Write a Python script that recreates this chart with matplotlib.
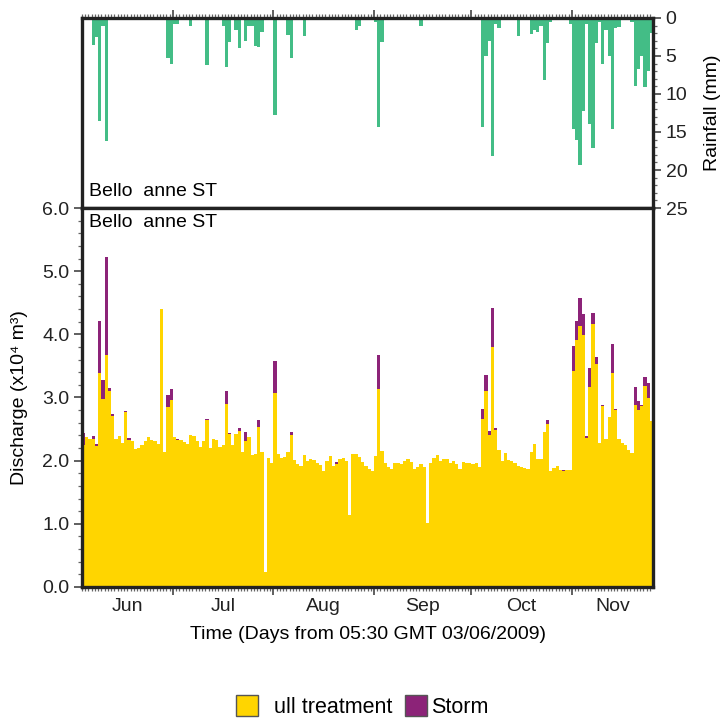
import numpy as np
import matplotlib
matplotlib.use("Agg")
import matplotlib.pyplot as plt
from matplotlib.patches import Patch
from matplotlib.transforms import blended_transform_factory

plt.rcParams['font.family'] = ['Liberation Sans', 'DejaVu Sans']
plt.rcParams['font.size'] = 14

# Daily discharge, days from 05:30 GMT 03/06/2009 (x10^4 m3)
base = [2.25, 2.37, 2.34, 2.34, 2.24, 3.39, 2.97, 3.67, 3.10, 2.71,
        2.34, 2.39, 2.28, 2.77, 2.33, 2.31, 2.18, 2.20, 2.25, 2.31,
        2.38, 2.33, 2.31, 2.27, 4.40, 2.14, 2.85, 2.96, 2.37, 2.33,
        2.33, 2.29, 2.27, 2.40, 2.39, 2.31, 2.22, 2.31, 2.64, 2.20,
        2.34, 2.33, 2.22, 2.25, 2.90, 2.42, 2.25, 2.42, 2.47, 2.14,
        2.31, 2.37, 2.09, 2.10, 2.53, 2.14, 0.23, 2.04, 1.96, 3.07,
        2.10, 2.04, 2.06, 2.14, 2.41, 2.01, 1.95, 1.92, 2.09, 2.00,
        2.03, 2.01, 1.96, 1.93, 1.84, 2.00, 2.08, 1.92, 1.95, 2.03,
        2.04, 2.00, 1.14, 2.10, 2.10, 2.06, 1.98, 1.92, 1.87, 1.83,
        2.08, 3.13, 2.15, 1.96, 1.90, 1.87, 1.96, 1.96, 1.95, 2.00,
        2.03, 1.98, 1.87, 1.90, 1.95, 1.90, 1.01, 1.96, 2.04, 2.09,
        2.00, 2.03, 2.03, 1.96, 2.00, 1.95, 1.87, 1.98, 1.96, 1.96,
        1.95, 1.96, 1.90, 2.66, 3.10, 2.41, 3.80, 2.48, 2.17, 2.00,
        2.12, 2.01, 2.00, 1.96, 1.92, 1.90, 1.89, 1.87, 2.14, 2.26,
        2.03, 2.03, 2.45, 2.58, 1.84, 1.89, 1.92, 1.85, 1.84, 1.86,
        1.85, 3.42, 3.91, 4.13, 3.99, 2.36, 3.16, 4.16, 3.53, 2.28,
        2.86, 2.34, 2.69, 3.39, 2.80, 2.34, 2.28, 2.25, 2.17, 2.12,
        2.88, 2.80, 2.86, 3.18, 2.99, 2.63]

storm = {0: 0.19, 3: 0.05, 4: 0.02, 5: 0.82, 6: 0.30, 7: 1.55, 8: 0.05,
         9: 0.03, 13: 0.02, 14: 0.03, 26: 0.19, 27: 0.17, 29: 0.02,
         38: 0.02, 44: 0.20, 45: 0.02, 48: 0.05, 50: 0.14, 51: 0.01,
         54: 0.11, 59: 0.51, 64: 0.04, 78: 0.03, 91: 0.54, 123: 0.16,
         124: 0.25, 125: 0.06, 126: 0.61, 127: 0.03, 143: 0.06, 148: 0.02,
         151: 0.39, 152: 0.30, 153: 0.44, 154: 0.33, 155: 0.03, 156: 0.31,
         157: 0.18, 158: 0.11, 160: 0.02, 163: 0.45, 164: 0.02, 170: 0.28,
         171: 0.14, 172: 0.02, 173: 0.14, 174: 0.24}

# Daily rainfall (mm)
rain = {3: 3.6, 4: 2.5, 5: 13.6, 6: 1.1, 7: 16.2, 8: 0.2, 26: 5.3, 27: 6.1,
        28: 0.8, 29: 0.8, 33: 1.1, 37: 0.2, 38: 6.2, 43: 1.1, 44: 6.4,
        45: 3.2, 47: 1.6, 48: 4.0, 50: 3.0, 51: 1.1, 52: 1.1, 53: 3.7,
        54: 3.8, 55: 1.85, 59: 12.8, 63: 2.25, 64: 5.3, 68: 2.4, 70: 0.2,
        84: 1.6, 85: 1.1, 90: 0.5, 91: 14.4, 92: 3.2, 104: 1.06, 107: 0.2,
        123: 14.3, 124: 5.0, 125: 3.05, 126: 18.1, 127: 0.8, 128: 1.3,
        134: 2.4, 138: 2.1, 139: 1.6, 140: 1.85, 141: 1.1, 142: 8.1,
        143: 3.3, 144: 0.5, 150: 0.8, 151: 14.6, 152: 16.0, 153: 19.3,
        154: 12.3, 155: 0.8, 156: 14.0, 157: 17.1, 158: 3.3, 159: 0.5,
        160: 6.0, 161: 1.6, 162: 5.0, 163: 14.6, 164: 1.3, 165: 1.2,
        169: 0.5, 170: 8.9, 171: 6.75, 172: 5.0, 173: 9.1, 174: 7.0,
        175: 2.0}

months = ['Jun', 'Jul', 'Aug', 'Sep', 'Oct', 'Nov']
month_starts = [28, 59, 90, 120, 151]
site = 'Bello  anne ST'

days = np.arange(len(base))
storm_vals = np.array([storm.get(d, 0.0) for d in days])
rain_vals = np.array([rain.get(d, 0.0) for d in days])

yellow = '#FFD500'
purple = '#8C2378'
green = '#43BD86'
dark = '#222222'
xlim = (-0.5, len(base) - 0.5)

fig = plt.figure(figsize=(7.25, 7.19), dpi=100)
ax_r = fig.add_axes([0.1131, 0.7107, 0.7876, 0.2643])
ax_q = fig.add_axes([0.1131, 0.1836, 0.7876, 0.5271])

# rainfall, hanging from the top
ax_r.bar(days, rain_vals, width=1.0, color=green, linewidth=0,
         antialiased=False)
ax_r.set_xlim(*xlim)
ax_r.set_ylim(25, 0)
ax_r.yaxis.tick_right()
ax_r.yaxis.set_label_position('right')
ax_r.set_yticks([0, 5, 10, 15, 20, 25])
ax_r.set_yticks(np.arange(0, 26, 1), minor=True)
ax_r.set_ylabel('Rainfall (mm)', labelpad=12)
ax_r.xaxis.tick_top()
ax_r.set_xticks([m - 0.5 for m in month_starts])
ax_r.set_xticks(days - 0.5, minor=True)
ax_r.tick_params(axis='x', which='both', labeltop=False)
ax_r.text(0.012, 0.04, site, transform=ax_r.transAxes, ha='left', va='bottom')

# discharge, stacked
ax_q.bar(days, base, width=1.0, color=yellow, linewidth=0, antialiased=False)
ax_q.bar(days, storm_vals, bottom=base, width=1.0, color=purple, linewidth=0,
         antialiased=False)
ax_q.set_xlim(*xlim)
ax_q.set_ylim(0, 6)
ax_q.set_yticks(np.arange(0, 7, 1))
ax_q.set_yticklabels(['%.1f' % v for v in range(7)])
ax_q.set_yticks(np.arange(0, 6.01, 0.2), minor=True)
ax_q.set_xticks([m - 0.5 for m in month_starts])
ax_q.set_xticklabels([])
ax_q.set_xticks(days - 0.5, minor=True)
ax_q.set_ylabel('Discharge (x10⁴ m³)', labelpad=10)
ax_q.set_xlabel('Time (Days from 05:30 GMT 03/06/2009)', labelpad=19)
ax_q.text(0.012, 0.985, site, transform=ax_q.transAxes, ha='left', va='top')

# month names in the middle of each month
edges = [xlim[0]] + [m - 0.5 for m in month_starts] + [xlim[1]]
trans = blended_transform_factory(ax_q.transData, ax_q.transAxes)
for i, name in enumerate(months):
    mid = (edges[i] + edges[i + 1]) / 2
    ax_q.text(mid, -0.028, name, transform=trans, ha='center', va='top',
              color=dark)

for ax in (ax_r, ax_q):
    for sp in ax.spines.values():
        sp.set_linewidth(2.4)
        sp.set_color(dark)
    ax.tick_params(which='major', length=6, width=1.2, color='#444444',
                   labelcolor=dark, pad=3)
    ax.tick_params(which='minor', length=3, width=0.9, color='#666666')

fig.legend(handles=[Patch(facecolor=yellow, edgecolor='#555555', linewidth=1),
                    Patch(facecolor=purple, edgecolor='#555555', linewidth=1)],
           labels=['  ull treatment', 'Storm'],
           loc='lower center', bbox_to_anchor=(0.5, -0.025), ncol=2,
           frameon=False, fontsize=15.5, handlelength=1.0, handleheight=1.1,
           handletextpad=0.2, columnspacing=0.6)

plt.savefig('out.png', dpi=100)
